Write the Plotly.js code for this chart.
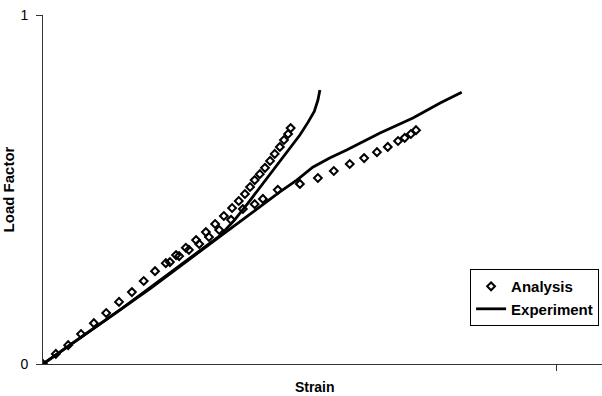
<!DOCTYPE html>
<html>
<head>
<meta charset="utf-8">
<script src="https://cdn.plot.ly/plotly-3.0.1.min.js"></script>
<style>html,body{margin:0;padding:0;background:#fff;}#chart{width:602px;height:396px;}</style>
</head>
<body>
<div id="chart"></div>
<script>
// Analysis, upper branch
const analysisAX = [0, .025, .049, .074, .099, .123, .148, .173, .196, .218, .239, .259, .278, .298, .317, .335, .352, .368, .381, .393, .403, .412, .422, .432, .442, .451, .461, .469, .477, .482];
const analysisAY = [0, .029, .054, .086, .117, .146, .178, .206, .238, .266, .289, .312, .333, .355, .378, .401, .424, .447, .467, .487, .507, .527, .544, .562, .582, .602, .622, .642, .659, .676];
// Analysis, lower branch
const analysisBX = [.247, .265, .284, .304, .323, .343, .366, .389, .412, .428, .457, .500, .535, .566, .597, .625, .650, .671, .691, .704, .716, .726];
const analysisBY = [.292, .309, .327, .344, .364, .384, .413, .444, .458, .473, .499, .516, .533, .553, .573, .590, .607, .622, .639, .648, .659, .670];
// Experiment, upper branch
const experimentAX = [0, .150, .344, .373, .399, .426, .455, .481, .500, .516, .528, .535, .539];
const experimentAY = [0, .155, .367, .413, .461, .513, .570, .619, .656, .693, .724, .756, .785];
// Experiment, lower branch
const experimentBX = [0, .208, .344, .428, .461, .494, .525, .558, .591, .656, .720, .773, .815];
const experimentBY = [0, .215, .365, .458, .493, .527, .564, .590, .613, .662, .705, .748, .779];

const lineStyle = {color: '#000', width: 2.8};
const markerStyle = {symbol: 'diamond-open', size: 6, color: '#000', line: {color: '#000', width: 2}};

const traces = [
  {x: experimentAX, y: experimentAY, mode: 'lines', line: lineStyle, name: 'Experiment', showlegend: false, legendrank: 2},
  {x: experimentBX, y: experimentBY, mode: 'lines', line: lineStyle, name: 'Experiment', legendrank: 2},
  {x: analysisAX, y: analysisAY, mode: 'markers', marker: markerStyle, name: 'Analysis', legendrank: 1},
  {x: analysisBX, y: analysisBY, mode: 'markers', marker: markerStyle, name: 'Analysis', showlegend: false, legendrank: 1}
];

const layout = {
  width: 602, height: 396,
  margin: {l: 43, r: 0, t: 15, b: 32},
  paper_bgcolor: '#fff', plot_bgcolor: '#fff',
  font: {family: 'Liberation Sans, Arial, sans-serif', color: '#000', size: 12},
  showlegend: true,
  legend: {
    x: 0.764, y: 0.272, xanchor: 'left', yanchor: 'top',
    bordercolor: '#000', borderwidth: 1, bgcolor: '#fff',
    font: {size: 15, weight: 'bold'}, tracegroupgap: 0, itemwidth: 30
  },
  xaxis: {
    range: [0, 1.088], showgrid: false, zeroline: false,
    showline: true, linecolor: '#333', linewidth: 1,
    tickvals: [1], ticktext: [''], ticks: 'outside', ticklen: 6, tickcolor: '#333',
    title: {text: '<b>Strain</b>&nbsp;&nbsp;&nbsp;&nbsp;', font: {size: 14}, standoff: 9}
  },
  yaxis: {
    range: [0, 1], showgrid: false, zeroline: false,
    showline: true, linecolor: '#333', linewidth: 1,
    tickvals: [0, 1], ticktext: ['0', '1'], ticks: 'outside', ticklen: 6, tickcolor: '#333',
    ticklabelstandoff: 5, tickfont: {size: 14},
    title: {text: '<b>Load Factor</b>', font: {size: 15}, standoff: 2}
  }
};

Plotly.newPlot('chart', traces, layout, {displayModeBar: false, staticPlot: true});
</script>
</body>
</html>
